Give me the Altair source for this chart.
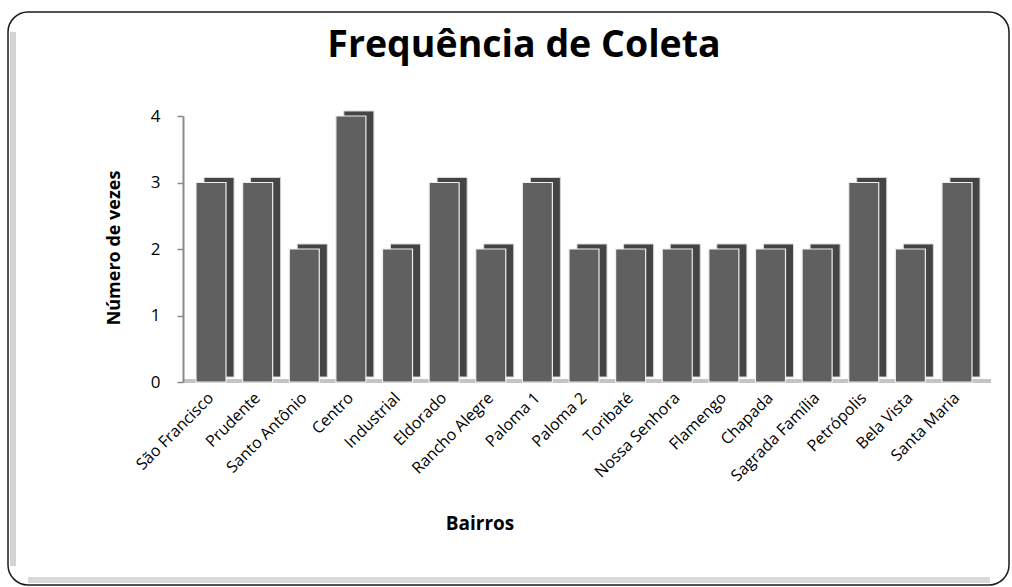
import altair as alt
import pandas as pd

bairros = ["São Francisco", "Prudente", "Santo Antônio", "Centro", "Industrial",
           "Eldorado", "Rancho Alegre", "Paloma 1", "Paloma 2", "Toribaté",
           "Nossa Senhora", "Flamengo", "Chapada", "Sagrada Família",
           "Petrópolis", "Bela Vista", "Santa Maria"]
vezes = [3, 3, 2, 4, 2, 3, 2, 3, 2, 2, 2, 2, 2, 2, 3, 2, 3]
y_ticks = [0, 1, 2, 3, 4]

titulo = "Frequência de Coleta"
titulo_y = "Número de vezes"
titulo_x = "Bairros"

df = pd.DataFrame({"bairro": bairros, "vezes": vezes})

W, H = 802, 266
PAD_L, PAD_T = 183, 116
FONT = "Open Sans"

xscale = alt.Scale(domain=bairros, paddingInner=0.356, paddingOuter=0.279)
yscale = alt.Scale(domain=[0, 4], nice=False)

xenc = alt.X("bairro:N", sort=bairros, scale=xscale,
             axis=alt.Axis(title=None, labelAngle=-45, labelAlign="right",
                           labelBaseline="middle", ticks=False, tickSize=0,
                           labelPadding=13, domain=False, labelFont=FONT,
                           labelFontSize=16, labelColor="#000000", zindex=1))
yenc = alt.Y("vezes:Q", scale=yscale,
             axis=alt.Axis(title=None, values=y_ticks, grid=False, tickSize=6,
                           labelPadding=17, domainColor="#8a8a8a", domainWidth=2,
                           tickColor="#8a8a8a", tickWidth=1.5, labelFont=FONT,
                           labelFontSize=17, labelColor="#000000", zindex=1))

one = alt.Data(values=[{}])

# decorative frame
frame = alt.Chart(one).mark_rect(cornerRadius=20, fillOpacity=0, fill="white",
                                 stroke="#1a1a1a", strokeWidth=1.5).encode(
    x=alt.value(8 - PAD_L), x2=alt.value(1009 - PAD_L),
    y=alt.value(12 - PAD_T), y2=alt.value(585 - PAD_T))
shadow_left = alt.Chart(one).mark_rule(color="#c8c8c8", strokeWidth=6, opacity=0.8).encode(
    x=alt.value(13 - PAD_L), y=alt.value(32 - PAD_T), y2=alt.value(566 - PAD_T))
shadow_bottom = alt.Chart(one).mark_rule(color="#cfcfcf", strokeWidth=6, opacity=0.8).encode(
    x=alt.value(28 - PAD_L), x2=alt.value(990 - PAD_L), y=alt.value(580 - PAD_T))

# floor
floor = alt.Chart(one).mark_rule(color="#c4c4c4", strokeWidth=4).encode(
    x=alt.value(0), x2=alt.value(W + 6), y=alt.value(H - 1))

side = alt.Chart(df).mark_bar(color="#444444", xOffset=8, yOffset=-5,
                              stroke="#d8d8d8", strokeWidth=1).encode(x=xenc, y=yenc)
front = alt.Chart(df).mark_bar(color="#606060", stroke="#eeeeee",
                               strokeWidth=1.2).encode(x=xenc, y=yenc)

title = alt.Chart(one).mark_text(text=titulo, font=FONT, fontSize=37.5, fontWeight="bold",
                                 align="center", baseline="alphabetic", color="#000000").encode(
    x=alt.value(524 - PAD_L), y=alt.value(57 - PAD_T))
ytitle = alt.Chart(one).mark_text(text=titulo_y, font=FONT, fontSize=18, fontWeight="bold",
                                  angle=270, align="center", baseline="middle",
                                  color="#000000").encode(
    x=alt.value(115 - PAD_L), y=alt.value(248 - PAD_T))
xtitle = alt.Chart(one).mark_text(text=titulo_x, font=FONT, fontSize=19, fontWeight="bold",
                                  align="center", baseline="alphabetic",
                                  color="#000000").encode(
    x=alt.value(480 - PAD_L), y=alt.value(530 - PAD_T))

chart = alt.layer(frame, shadow_left, shadow_bottom, floor, side, front,
                  title, ytitle, xtitle).properties(
    width=W, height=H,
    autosize=alt.AutoSizeParams(type="none"),
    padding={"left": PAD_L, "top": PAD_T, "right": 1012 - PAD_L - W,
             "bottom": 587 - PAD_T - H},
    background="white",
).configure_view(stroke="transparent")

chart.save("out.html", embed_options={"renderer": "svg", "actions": False})
